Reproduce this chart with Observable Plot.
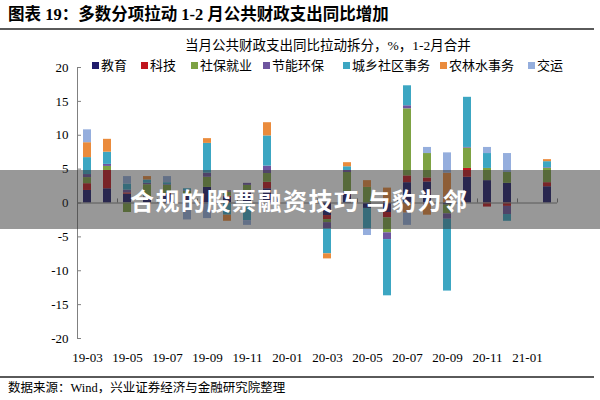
<!DOCTYPE html>
<html><head><meta charset="utf-8">
<script src="https://cdn.jsdelivr.net/npm/d3@7"></script>
<script src="https://cdn.jsdelivr.net/npm/@observablehq/plot@0.6"></script>
<style>
body{margin:0;background:#fff;}
#wrap{position:relative;width:600px;height:400px;overflow:hidden;font-family:"Liberation Serif","Noto Sans CJK SC",serif;color:#000;}
#chart{position:absolute;left:0;top:0;}
.abs{position:absolute;white-space:nowrap;}
.lg{position:absolute;top:59px;height:14px;line-height:14px;font-size:13px;font-family:"Liberation Serif","Noto Sans CJK SC";white-space:nowrap;}
.lg i{display:inline-block;width:7px;height:7px;margin-right:2px;vertical-align:1px;}
</style></head><body>
<div id="wrap">
  <div id="chart"></div>
  <div class="abs" style="left:8px;top:5px;font-size:16.5px;line-height:19px;font-weight:bold;font-family:'Liberation Serif','Noto Sans CJK SC';">图表 19：多数分项拉动 1-2 月公共财政支出同比增加</div>
  <div class="abs" style="left:0;top:28px;width:594px;height:2px;background:#5a5a5a;"></div>
  <div class="abs" id="subtitle" style="left:185px;top:38px;font-size:13.5px;line-height:16px;font-family:'Liberation Serif','Noto Sans CJK SC';">当月公共财政支出同比拉动拆分，%，1-2月合并</div>
  <div id="legend"></div>
  <div class="abs" style="left:0;top:376px;width:594px;height:2px;background:#5a5a5a;"></div>
  <div class="abs" style="left:8px;top:381px;font-size:12.5px;line-height:15px;font-family:'Liberation Serif','Noto Sans CJK SC';">数据来源：Wind，兴业证券经济与金融研究院整理</div>
  <div class="abs" id="wm" style="left:0;top:170px;width:600px;height:59px;background:rgba(50,50,50,0.5);"></div>
  <div class="abs" style="left:130px;top:186px;font-size:24px;line-height:28px;font-weight:bold;color:#fff;letter-spacing:1.5px;font-family:'Noto Sans CJK SC';">合规的股票融资技巧 与豹为邻</div>
</div>
<script>
const cats = ["19-03","19-04","19-05","19-06","19-07","19-08","19-09","19-10","19-11","19-12",
  "20-01","20-02","20-03","20-04","20-05","20-06","20-07","20-08","20-09","20-10","20-11","20-12","21-01","21-02"];
const xTickLabels = ["19-03","19-05","19-07","19-09","19-11","20-01","20-03","20-05","20-07","20-09","20-11","21-01"];
const seriesNames = ["教育","科技","社保就业","节能环保","城乡社区事务","农林水事务","交运"];
const colors = ["#201C6C","#C0161F","#7DA243","#6E559F","#3CA6C2","#EA8B3C","#95AEDD"];
const legendX = [92,141,191,263,343,440,528];

const edu     = [1.85, 2.1, 1.3, 0.8, 1.3, 1.0, 2.3, 0.8, 1.5, 2.1, 0, 0, -1.85, 1.5, -0.8, -1.4, 3.0, 3.1, -0.3, 3.8, 3.3, 2.9, 0, 2.4];
const tech    = [1.0, 2.7, 0.2, 0.1, 0.1, 0.2, 0, 0.2, 0.3, 0.95, 0, 0, -0.6, 0.1, 0, -0.8, 1.0, 0.6, 0, 1.3, -0.6, -0.5, 0, 0.6];
const social  = [0.9, 0.6, -1.4, 1.8, 1.2, 0.5, 1.5, 0.6, 0.8, 1.3, 0, 0, -0.45, 2.9, 2.3, -2.2, 9.9, 3.6, -1.3, 3.0, 1.8, 1.6, 0, 2.1];
const energy  = [0.45, 0.3, 0.4, 0.2, 0.1, 0.1, 0.6, 0.2, 0.3, 1.1, 0, 0, -0.9, 0.3, 0, -1.0, 0.45, 0, -0.8, 0.1, 0, -1.2, 0, 0.1];
const urban   = [2.5, 1.8, 0.9, 0.5, 0.3, 0.3, 4.4, -1.8, -2.6, 4.45, 0, 0, -3.7, 0.55, -3.0, -8.3, 2.95, 0, -10.6, 7.4, 2.2, -1.0, 0, 0.9];
const agri    = [2.2, 1.9, 0, 0.5, 0, 0, 0.7, -0.9, 0, 1.95, 0, 0, -0.75, 0.6, 1.0, 2.2, -1.5, -1.8, 4.4, 0, 0, 0, 0, 0.3];
const traffic = [1.9, 0, 1.1, 0, 0.9, -2.5, -2.3, 0, -0.7, 0, 0, 0, 0, 0, -1.0, 0, -1.8, 0.9, 3.0, 0, 0.9, 2.8, 0, 0];
const yTicks = [-20,-15,-10,-5,0,5,10,15,20];

const seriesValues = [edu, tech, social, energy, urban, agri, traffic];
const data = seriesNames.flatMap((s, si) => cats.map((c, ci) => ({cat: c, series: s, value: seriesValues[si][ci]})));
const labelSet = new Set(xTickLabels);
const oddCats = cats.filter((d, i) => i % 2 === 1);
const axisColor = "#808080";

const chart = Plot.plot({
  width: 600, height: 400,
  marginLeft: 77, marginRight: 43, marginTop: 67, marginBottom: 62,
  style: {fontFamily: "Liberation Serif", fontSize: "13px", color: "#000", background: "transparent"},
  x: {domain: cats, padding: 0, tickSize: 0, tickPadding: 14, tickFormat: d => labelSet.has(d) ? d : "", label: null},
  y: {domain: [-20, 20], ticks: 8, tickSize: 0, tickPadding: 9, tickFormat: d => String(d), label: null},
  color: {domain: seriesNames, range: colors},
  marks: [
    Plot.barY(data, {x: "cat", y: "value", fill: "series", insetLeft: 6, insetRight: 6}),
    Plot.ruleY([0], {stroke: axisColor}),
    Plot.ruleX([cats[0]], {x: d => d, dx: -10, stroke: axisColor}),
    Plot.tickY(yTicks, {y: d => d, x: () => cats[0], insetRight: 16, stroke: axisColor}),
    Plot.ruleX(oddCats, {x: d => d, y1: 0, y2: 0.6, dx: 10, stroke: axisColor})
  ]
});
document.getElementById("chart").appendChild(chart);

const lg = document.getElementById("legend");
seriesNames.forEach((s, i) => {
  const el = document.createElement("div");
  el.className = "lg";
  el.style.left = legendX[i] + "px";
  el.innerHTML = `<i style="background:${colors[i]}"></i>${s}`;
  lg.appendChild(el);
});
</script>
</body></html>
